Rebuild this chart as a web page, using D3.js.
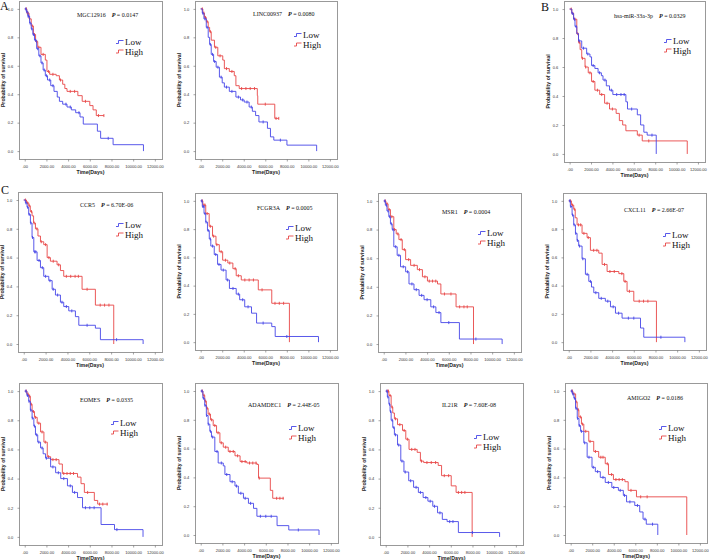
<!DOCTYPE html>
<html><head><meta charset="utf-8">
<script src="https://cdn.jsdelivr.net/npm/d3@7"></script>
<style>body{margin:0;background:#fff}svg{display:block}</style>
</head><body>
<svg id="chart" width="709" height="560"></svg>
<script>
// ---------- DATA ----------
const genes  = ["MGC12916","LINC00937","hsa-miR-33a-3p","CCR5","FCGR3A","MSR1","CXCL11","EOMES","ADAMDEC1","IL21R","AMIGO2"];
const pValues = ["0.0147","0.0080","0.0329","6.70E-06","0.0005","0.0004","2.66E-07","0.0335","2.44E-05","7.60E-08","0.0186"];
const xTicks = [0,2000,4000,6000,8000,10000,12000];
const xTickLabels = [".00","2000.00","4000.00","6000.00","8000.00","10000.00","12000.00"];
const yTicks = [0,0.2,0.4,0.6,0.8,1.0];
const yTickLabels = ["0.0","0.2","0.4","0.6","0.8","1.0"];
const groups = ["Low","High"];

// Kaplan-Meier step points [days, survival] and censor times
const MGC12916_low  = [[0,1],[150,0.98],[300,0.95],[450,0.90],[600,0.86],[750,0.82],[900,0.78],[1100,0.72],[1300,0.67],[1500,0.62],[1700,0.57],[1900,0.53],[2100,0.50],[2400,0.46],[2700,0.42],[3000,0.38],[3200,0.35],[3500,0.33],[3900,0.31],[4300,0.29],[4700,0.27],[5100,0.24],[5400,0.19],[6700,0.14],[7000,0.09],[8150,0.045],[10950,0]];
const MGC12916_lowC = [100,200,300,350,500,650,800,1000,1200,1400,1600,1800,2000,2300,2600,3800,4200,5000,7700];
const MGC12916_high = [[0,1],[200,0.97],[400,0.93],[600,0.88],[800,0.82],[1000,0.77],[1200,0.73],[1500,0.68],[1900,0.64],[2050,0.56],[2300,0.54],[2900,0.53],[3200,0.50],[3500,0.47],[3700,0.44],[3900,0.42],[4900,0.39],[5300,0.35],[6000,0.32],[6300,0.29],[6600,0.25],[7300,0.25]];
const MGC12916_highC = [150,250,300,450,700,900,1100,1300,1700,2200,2600,3300,4200,4600,5600,6800,7300];

const LINC00937_low  = [[0,1],[150,0.97],[300,0.93],[520,0.87],[700,0.80],[830,0.75],[980,0.68],[1200,0.63],[1440,0.59],[1740,0.52],[2000,0.48],[2200,0.45],[2660,0.42],[3270,0.38],[3700,0.36],[4040,0.345],[4500,0.31],[4800,0.28],[5100,0.25],[5410,0.205],[6200,0.16],[6480,0.10],[6790,0.077],[8010,0.042],[10770,0]];
const LINC00937_lowC = [200,400,600,900,1100,1300,1600,1900,2400,2900,3500,3900,4300,4700,5800,7400];
const LINC00937_high = [[0,1],[200,0.97],[350,0.94],[520,0.91],[700,0.87],[830,0.84],[980,0.78],[1280,0.73],[1590,0.67],[2050,0.64],[2200,0.58],[2660,0.56],[3120,0.53],[3270,0.46],[3580,0.44],[5260,0.39],[5300,0.33],[6880,0.23],[7250,0.23]];
const LINC00937_highC = [150,300,450,600,900,1400,1800,2400,2900,3800,4200,4600,5000,6000,7000,7250];

const MIR33A_low  = [[0,1],[200,0.97],[370,0.93],[500,0.88],[670,0.83],[830,0.78],[1130,0.73],[1590,0.69],[1900,0.67],[2050,0.61],[2360,0.59],[2660,0.56],[2970,0.54],[3120,0.51],[3430,0.47],[3730,0.44],[4040,0.41],[5260,0.36],[5410,0.31],[6330,0.27],[6640,0.20],[6940,0.15],[7250,0.13],[8100,0]];
const MIR33A_lowC = [250,450,600,900,1300,1700,2200,2800,3300,3900,4400,4800,5100,5800,7700];
const MIR33A_high = [[0,1],[200,0.97],[370,0.93],[670,0.83],[830,0.77],[980,0.72],[1130,0.66],[1440,0.60],[1740,0.56],[2050,0.50],[2360,0.44],[2810,0.41],[3270,0.35],[3730,0.31],[4350,0.28],[4650,0.23],[4960,0.20],[5260,0.16],[6330,0.13],[6790,0.09],[11000,0]];
const MIR33A_highC = [150,300,500,750,900,1200,1500,1900,2200,2600,3000,3500,4000,6500,7400];

const CCR5_low  = [[0,1],[150,0.98],[300,0.95],[450,0.90],[610,0.84],[760,0.74],[920,0.64],[1220,0.58],[1530,0.53],[1830,0.47],[2290,0.44],[2600,0.38],[2900,0.34],[3360,0.29],[3660,0.26],[4120,0.23],[4730,0.19],[5040,0.13],[6560,0.11],[7020,0.03],[10930,0]];
const CCR5_lowC = [200,350,500,650,800,1000,1100,1400,1700,2000,2400,2700,3100,3500,3900,4400,5800,8500];
const CCR5_high = [[0,1],[250,0.98],[460,0.96],[600,0.92],[760,0.89],[900,0.84],[1070,0.80],[1300,0.75],[1530,0.71],[1830,0.69],[2140,0.60],[2440,0.575],[3050,0.55],[3360,0.51],[3660,0.47],[5340,0.38],[6560,0.27],[8240,0]];
const CCR5_highC = [150,350,500,700,950,1200,1600,2000,2300,2700,3200,3900,4300,4700,5000,5800,7000,7400,7800];

const FCGR3A_low  = [[0,1],[150,0.96],[310,0.91],[470,0.85],[630,0.79],[800,0.73],[940,0.68],[1260,0.62],[1570,0.55],[1890,0.51],[2360,0.44],[2670,0.38],[3300,0.34],[3620,0.30],[4090,0.25],[4720,0.205],[5190,0.135],[6600,0.11],[6920,0.04],[10940,0]];
const FCGR3A_lowC = [100,200,300,400,500,700,900,1100,1400,1700,2100,2500,3000,3500,3900,4400,5800,8000];
const FCGR3A_high = [[0,1],[200,0.97],[470,0.91],[790,0.82],[1100,0.75],[1420,0.69],[1730,0.64],[2040,0.58],[2520,0.56],[2990,0.52],[3300,0.47],[3770,0.44],[5350,0.37],[6600,0.275],[8240,0]];
const FCGR3A_highC = [150,300,400,600,900,1200,1500,1900,2300,2700,3200,3500,4100,4500,4900,5700,6900,7300,7700];

const MSR1_low  = [[0,1],[150,0.97],[300,0.93],[470,0.89],[620,0.84],[780,0.80],[930,0.68],[1240,0.62],[1550,0.54],[2020,0.505],[2330,0.42],[2790,0.38],[3260,0.34],[3720,0.31],[4340,0.26],[4810,0.22],[5270,0.15],[6980,0.035],[10920,0]];
const MSR1_lowC = [100,250,400,550,700,850,1100,1400,1800,2200,2600,3000,3500,4000,4600,5100,6000,8500];
const MSR1_high = [[0,1],[200,0.98],[400,0.94],[620,0.89],[930,0.80],[1150,0.77],[1400,0.73],[1710,0.66],[2020,0.59],[2480,0.55],[3100,0.52],[3570,0.47],[4030,0.44],[4960,0.42],[5270,0.35],[6670,0.26],[8280,0]];
const MSR1_highC = [150,300,500,750,1000,1300,1600,1900,2300,2800,3300,3800,4200,4500,4800,5600,6200,7000,7400,7700];

const CXCL11_low  = [[0,1],[150,0.96],[310,0.90],[460,0.83],[620,0.77],[770,0.72],[920,0.68],[1230,0.59],[1540,0.48],[1850,0.43],[2100,0.39],[2310,0.35],[2770,0.31],[3380,0.29],[3850,0.25],[4310,0.205],[4920,0.17],[6620,0.10],[6920,0.035],[10710,0]];
const CXCL11_lowC = [100,200,350,500,650,800,1000,1300,1700,2000,2500,3000,3600,4100,4600,5500,6000,8500];
const CXCL11_high = [[0,1],[250,0.97],[460,0.94],[600,0.88],[770,0.83],[1230,0.77],[1690,0.74],[2000,0.65],[2770,0.63],[3080,0.55],[3540,0.50],[4620,0.485],[5080,0.43],[5380,0.36],[6000,0.29],[8090,0]];
const CXCL11_highC = [150,350,550,900,1100,1400,1800,2300,2600,3300,3800,4200,4900,5200,5600,6500,6900,7300];

const EOMES_low  = [[0,1],[200,0.97],[370,0.93],[520,0.87],[680,0.815],[840,0.76],[990,0.70],[1200,0.65],[1460,0.61],[1700,0.57],[1920,0.54],[2390,0.48],[2850,0.44],[3320,0.40],[3940,0.35],[4400,0.305],[4870,0.27],[5330,0.20],[7040,0.085],[8280,0.05],[10910,0]];
const EOMES_lowC = [100,250,400,550,700,900,1100,1300,1600,2000,2600,3100,3600,4200,4600,5600,6000,6400,8500];
const EOMES_high = [[0,1],[200,0.98],[370,0.965],[520,0.91],[680,0.86],[900,0.82],[1150,0.78],[1460,0.72],[1770,0.65],[2080,0.55],[2390,0.53],[3160,0.50],[3470,0.435],[4870,0.41],[5190,0.365],[5500,0.305],[6420,0.25],[6730,0.225],[7660,0.225]];
const EOMES_highC = [150,300,450,600,800,1000,1300,1600,1900,2200,2600,2900,3600,3900,4200,4500,5800,6900,7200,7600];

const ADAMDEC1_low  = [[0,1],[200,0.95],[370,0.90],[520,0.83],[680,0.77],[840,0.72],[990,0.68],[1300,0.58],[1610,0.50],[2080,0.48],[2230,0.42],[2700,0.37],[3160,0.34],[3470,0.29],[3940,0.255],[4400,0.22],[4870,0.185],[5180,0.13],[7040,0.065],[8120,0.035],[10910,0]];
const ADAMDEC1_lowC = [100,250,400,550,700,900,1100,1500,1900,2400,2900,3300,3700,4100,4600,5500,6000,6500,9000];
const ADAMDEC1_high = [[0,1],[200,0.97],[370,0.93],[520,0.88],[680,0.84],[900,0.80],[1150,0.76],[1460,0.71],[1770,0.64],[2080,0.61],[2540,0.58],[3160,0.55],[3630,0.51],[4250,0.50],[5180,0.49],[5330,0.395],[6420,0.31],[6640,0.255],[7660,0.255]];
const ADAMDEC1_highC = [150,300,450,600,800,1000,1300,1600,1900,2300,2700,3000,3400,3800,4100,4500,4800,5100,5400,7000,7300,7600];

const IL21R_low  = [[0,1],[150,0.96],[295,0.91],[400,0.86],[500,0.80],[650,0.75],[800,0.70],[1090,0.63],[1390,0.52],[1680,0.445],[2120,0.385],[2570,0.34],[3010,0.305],[3450,0.27],[3890,0.245],[4340,0.21],[4780,0.165],[5220,0.12],[5660,0.105],[6700,0.03],[10500,0]];
const IL21R_lowC = [100,200,350,450,600,750,900,1200,1500,1800,2300,2800,3200,3700,4100,4500,5000,5900,6200,8000];
const IL21R_high = [[0,1],[295,0.97],[500,0.89],[650,0.85],[800,0.81],[1090,0.77],[1550,0.73],[1850,0.67],[2150,0.60],[2900,0.58],[3200,0.52],[3500,0.51],[4840,0.49],[5150,0.42],[6040,0.35],[6490,0.305],[7970,0]];
const IL21R_highC = [150,250,400,600,900,1300,1700,2000,2400,2700,3300,3800,4200,4600,5400,5800,6700,7000,7300];

const AMIGO2_low  = [[0,1],[150,0.98],[300,0.95],[450,0.88],[610,0.81],[770,0.76],[920,0.72],[1220,0.64],[1530,0.54],[1980,0.47],[2290,0.44],[2750,0.40],[3210,0.365],[3820,0.33],[4430,0.31],[4890,0.275],[5190,0.23],[5950,0.205],[6410,0.16],[6720,0.11],[7020,0.075],[8090,0]];
const AMIGO2_lowC = [100,200,350,500,650,800,1000,1300,1700,2100,2500,3000,3500,4000,4600,5000,5500,6200,6900,7600];
const AMIGO2_high = [[0,1],[200,0.98],[460,0.925],[600,0.87],[760,0.82],[1000,0.77],[1220,0.72],[1680,0.65],[2140,0.58],[2600,0.54],[3210,0.495],[3510,0.42],[3970,0.385],[5040,0.37],[5340,0.31],[6110,0.265],[10780,0]];
const AMIGO2_highC = [150,300,500,700,900,1100,1400,1800,2300,2800,3000,3400,3800,4200,4500,4800,5600,6500,7100];

const lowCurves   = [MGC12916_low, LINC00937_low, MIR33A_low, CCR5_low, FCGR3A_low, MSR1_low, CXCL11_low, EOMES_low, ADAMDEC1_low, IL21R_low, AMIGO2_low];
const lowCensor   = [MGC12916_lowC, LINC00937_lowC, MIR33A_lowC, CCR5_lowC, FCGR3A_lowC, MSR1_lowC, CXCL11_lowC, EOMES_lowC, ADAMDEC1_lowC, IL21R_lowC, AMIGO2_lowC];
const highCurves  = [MGC12916_high, LINC00937_high, MIR33A_high, CCR5_high, FCGR3A_high, MSR1_high, CXCL11_high, EOMES_high, ADAMDEC1_high, IL21R_high, AMIGO2_high];
const highCensor  = [MGC12916_highC, LINC00937_highC, MIR33A_highC, CCR5_highC, FCGR3A_highC, MSR1_highC, CXCL11_highC, EOMES_highC, ADAMDEC1_highC, IL21R_highC, AMIGO2_highC];

// ---------- LAYOUT ----------
const frames = [[19,1,143,158],[195,1,142,158],[564,1,141,161],
  [18,192,144,160],[195,193,142,157],[378,193,143,159],[563,193,143,157],
  [19,383,143,162],[195,383,143,160],[380,383,143,162],[565,383,142,160]];
const titlePos  = [[58,14],[58,13],[50,15],[62,13],[62,15],[64,19],[61,17],[61,17],[53,22],[62,22],[62,15]];
const legendPos = [[106,41],[108,34],[109,40],[107,33],[100,35],[109,40],[109,42],[101,40],[103,45],[103,54],[103,45]];
const panelLetters = [["A",0,10],["B",541,11],["C",1,194]];
const colors = {Low:"#4646e8", High:"#e84646"};

const svg = d3.select("#chart");
const serif = "'Liberation Serif','Times New Roman',serif";
const sans = "'Liberation Sans',Arial,sans-serif";

panelLetters.forEach(([t,x,y]) => svg.append("text").attr("x",x).attr("y",y)
  .attr("font-family",serif).attr("font-size",12).attr("fill","#111").text(t));

function survAt(pts, t){ let s = 1; for (const p of pts){ if (p[0] <= t) s = p[1]; } return s; }

genes.forEach((g,i) => {
  const [fx,fy,fw,fh] = frames[i];
  const x = d3.scaleLinear().domain([0,12000]).range([fx+0.04*fw, fx+0.95*fw]);
  const y = d3.scaleLinear().domain([0,1]).range([fy+0.95*fh, fy+0.05*fh]);
  const G = svg.append("g");

  G.append("rect").attr("x",fx+0.5).attr("y",fy+0.5).attr("width",fw).attr("height",fh)
    .attr("fill","none").attr("stroke","#999").attr("stroke-width",1);

  const xa = G.append("g").attr("transform",`translate(0,${fy+fh+0.5})`)
    .call(d3.axisBottom(x).tickValues(xTicks).tickSize(2).tickFormat((d,k)=>xTickLabels[k]));
  const ya = G.append("g").attr("transform",`translate(${fx+0.5},0)`)
    .call(d3.axisLeft(y).tickValues(yTicks).tickSize(2).tickFormat((d,k)=>yTickLabels[k]));
  [xa,ya].forEach(a => {
    a.select(".domain").remove();
    a.selectAll("line").attr("stroke","#666").attr("stroke-width",0.6);
    a.selectAll("text").attr("font-family",sans).attr("font-size",4).attr("fill","#333");
  });
  xa.selectAll("text").attr("dy","0.9em");
  ya.selectAll("text").attr("dx","-0.3em");

  G.append("text").attr("x",fx+fw/2).attr("y",fy+fh+15).attr("text-anchor","middle")
    .attr("font-family",sans).attr("font-weight","bold").attr("font-size",5.2).attr("fill","#222").text("Time(Days)");
  G.append("text").attr("transform",`translate(${fx-14},${fy+fh/2}) rotate(-90)`).attr("text-anchor","middle")
    .attr("font-family",sans).attr("font-weight","bold").attr("font-size",5.2).attr("fill","#222").text("Probability of survival");

  const tt = G.append("text").attr("x",fx+titlePos[i][0]).attr("y",fy+titlePos[i][1]).attr("dy","0.35em")
    .attr("font-family",serif).attr("font-size",6).attr("fill","#111");
  tt.append("tspan").text(g + "\u2002\u2002");
  tt.append("tspan").attr("font-style","italic").attr("font-weight","bold").text("P");
  tt.append("tspan").text(" = " + pValues[i]);

  const line = d3.line().x(d=>x(d[0])).y(d=>y(d[1])).curve(d3.curveStepAfter);
  [["High",highCurves[i],highCensor[i]],["Low",lowCurves[i],lowCensor[i]]].forEach(([grp,pts,cen]) => {
    G.append("path").attr("d",line(pts)).attr("fill","none").attr("stroke",colors[grp]).attr("stroke-width",0.9);
    G.selectAll(null).data(cen).enter().append("line")
      .attr("x1",d=>x(d)).attr("x2",d=>x(d))
      .attr("y1",d=>y(survAt(pts,d))-1.5).attr("y2",d=>y(survAt(pts,d))+1.5)
      .attr("stroke",colors[grp]).attr("stroke-width",0.9);
  });

  groups.forEach((grp,k) => {
    const lx = fx+legendPos[i][0], ly = fy+legendPos[i][1]+k*9.5;
    G.append("path").attr("d",`M${lx-9},${ly+1.5} h2.5 v-3 h5`).attr("fill","none")
      .attr("stroke",colors[grp]).attr("stroke-width",0.9);
    G.append("text").attr("x",lx).attr("y",ly).attr("dy","0.35em")
      .attr("font-family",serif).attr("font-size",9).attr("fill","#111").text(grp);
  });
});
</script>
</body></html>
